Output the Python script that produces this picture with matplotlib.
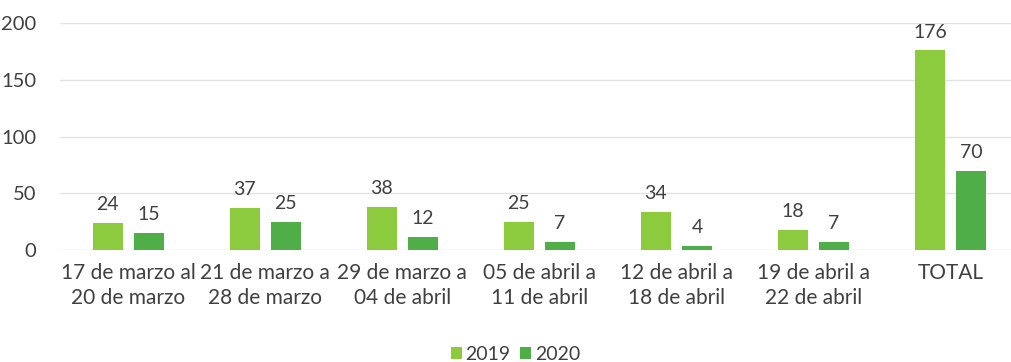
import numpy as np
import matplotlib.pyplot as plt

categories = ['17 de marzo al\n20 de marzo', '21 de marzo a\n28 de marzo', '29 de marzo a\n04 de abril',
              '05 de abril a\n11 de abril', '12 de abril a\n18 de abril', '19 de abril a\n22 de abril', 'TOTAL']
vals_2019 = [24, 37, 38, 25, 34, 18, 176]
vals_2020 = [15, 25, 12, 7, 4, 7, 70]

plt.rcParams['font.family'] = ['Lato', 'DejaVu Sans']
text_col = '#404040'

fig = plt.figure(figsize=(10.11, 3.62), dpi=100)
ax = fig.add_axes([0.059, 0.309, 0.949, 0.627])

x = np.arange(len(categories))
w = 0.22
b1 = ax.bar(x - 0.15, vals_2019, w, color='#8DCB3E', label='2019', zorder=2)
b2 = ax.bar(x + 0.15, vals_2020, w, color='#4FAE48', label='2020', zorder=2)

for bars in (b1, b2):
    for rect in bars:
        h = rect.get_height()
        ax.annotate(str(int(h)), (rect.get_x() + rect.get_width() / 2, h),
                    xytext=(0, 7), textcoords='offset points', ha='center', va='bottom',
                    fontsize=14, color=text_col, annotation_clip=False)

ax.set_xlim(-0.5, len(categories) - 0.5)
ax.set_ylim(0, 200)
ax.set_yticks([0, 50, 100, 150, 200])
ax.set_xticks(x)
ax.set_xticklabels(categories, fontsize=15, color=text_col, linespacing=1.33)
ax.tick_params(axis='y', labelsize=14.5, colors=text_col, length=0, pad=17)
ax.tick_params(axis='x', length=0, pad=9)
ax.grid(axis='y', color='#e3e3e3', linewidth=1, zorder=0)
for s in ax.spines.values():
    s.set_visible(False)

fig.legend(loc='lower center', bbox_to_anchor=(0.51, -0.05), ncol=2, frameon=False,
           fontsize=14, handlelength=0.55, handleheight=0.55, handletextpad=0.2,
           columnspacing=0.5, labelcolor=text_col)

fig.savefig('out.png', dpi=100)
